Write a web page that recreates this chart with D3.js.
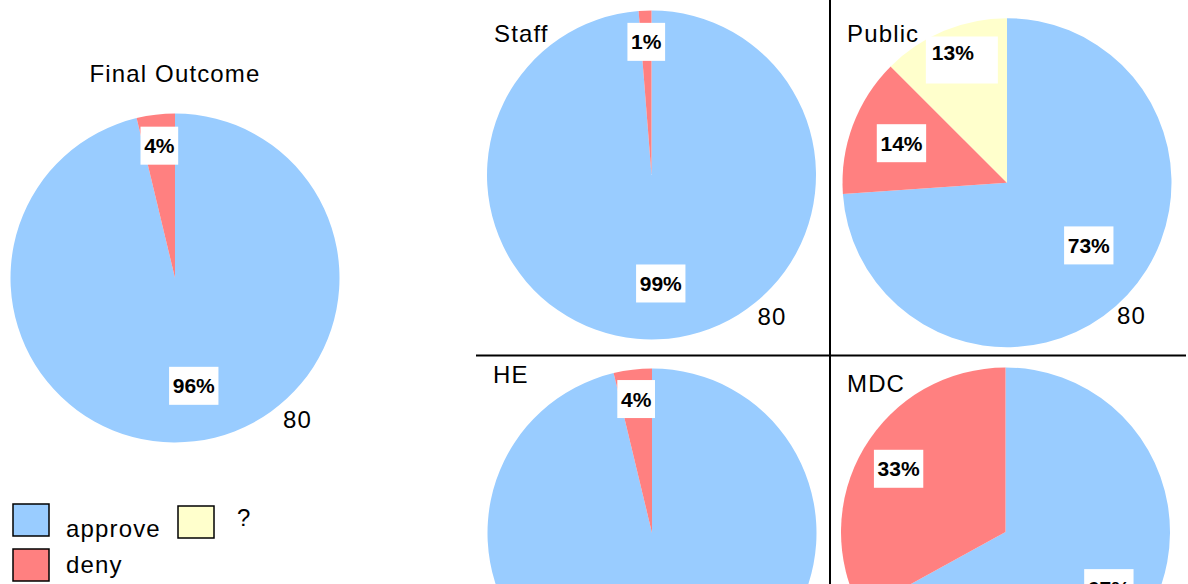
<!DOCTYPE html>
<html>
<head>
<meta charset="utf-8">
<script src="https://cdn.jsdelivr.net/npm/d3@7"></script>
<style>
  html, body { margin: 0; padding: 0; background: #fff; }
  svg { display: block; }
  text { font-family: "Liberation Sans", Arial, sans-serif; }
</style>
</head>
<body>
<svg id="chart" width="1188" height="584"></svg>
<script>
// ---------------- DATA ----------------
const panels = ["Final Outcome", "Staff", "Public", "HE", "MDC"];
const categories = ["approve", "deny", "?"];
const approve = [96.25, 98.75, 73.9, 96.25, 67];
const deny = [3.75, 1.25, 13.6, 3.75, 33];
const unknown = [0, 0, 12.5, 0, 0];
const counts = [80, 80, 80, 80, 80];
// percentage labels as printed in the chart (approve, deny, ?)
const approveLabels = ["96%", "99%", "73%", "96%", "67%"];
const denyLabels = ["4%", "1%", "14%", "4%", "33%"];
const unknownLabels = ["", "", "13%", "", ""];

// ---------------- LAYOUT / STYLE ----------------
const W = 1188, H = 584;
const colors = ["#99CCFF", "#FF8080", "#FFFFCC"];
const R = 164.5;
const centers = [[175, 278], [651.5, 175], [1007, 182.7], [652, 533], [1005.5, 532]];
const titlePos = [[175, 82, "middle"], [494, 42, "start"], [847, 42, "start"], [493, 383, "start"], [847, 392, "start"]];
// label radius fraction per slice (approve, deny, ?)
const labelFrac = [[0.66, 0.81, 0.8], [0.66, 0.81, 0.8], [0.63, 0.685, 0.86], [0.66, 0.82, 0.8], [0.73, 0.755, 0.8]];
// small nudges [dx, dy] for specific labels (panel-category)
const labelNudge = { "0-0": [6, 0], "1-0": [5, 0], "2-0": [6, -8], "4-0": [0, -5] };
// extra box padding [left, right, top, bottom] for specific labels (panel-category)
const boxOverride = { "2-2": [27, 45, 15.5, 31.5] };
const countOffset = [[108, 150], [106, 150], [110, 141], [108, 150], [108, 150]];
const legendPos = [[13, 504, 66, 537], [13, 549, 66, 573], [178, 506, 237, 526]];

const svg = d3.select("#chart");
svg.append("rect").attr("width", W).attr("height", H).attr("fill", "#fff");

const color = d3.scaleOrdinal().domain(categories).range(colors);
const pie = d3.pie().sort(null).value(d => d.value);
const arc = d3.arc().innerRadius(0).outerRadius(R);

// grid lines
svg.append("line").attr("x1", 830).attr("x2", 830).attr("y1", 0).attr("y2", H)
  .attr("stroke", "#000").attr("stroke-width", 2);
svg.append("line").attr("x1", 476).attr("x2", 1186).attr("y1", 355.5).attr("y2", 355.5)
  .attr("stroke", "#000").attr("stroke-width", 2);

const valueSeries = [approve, deny, unknown];
const labelSeries = [approveLabels, denyLabels, unknownLabels];

panels.forEach((name, i) => {
  const data = categories.map((c, k) => ({ cat: c, k: k, value: valueSeries[k][i], label: labelSeries[k][i] }));
  const arcs = pie(data);
  const g = svg.append("g").attr("transform", `translate(${centers[i][0]},${centers[i][1]})`);

  g.selectAll("path.slice").data(arcs.filter(a => a.data.value > 0)).join("path")
    .attr("class", "slice")
    .attr("d", arc)
    .attr("fill", d => color(d.data.cat));

  arcs.filter(a => a.data.value > 0).forEach(a => {
    const k = a.data.k;
    const key = i + "-" + k;
    const mid = (a.startAngle + a.endAngle) / 2;
    const rr = R * labelFrac[i][k];
    const nd = labelNudge[key] || [0, 0];
    const x = Math.sin(mid) * rr + nd[0], y = -Math.cos(mid) * rr + nd[1];
    const lg = g.append("g").attr("transform", `translate(${x},${y})`);
    const t = lg.append("text").attr("text-anchor", "middle").attr("dy", "0.36em")
      .attr("font-size", 21).attr("font-weight", "bold")
      .attr("fill", "#000").text(a.data.label);
    const bb = t.node().getBBox();
    const ov = boxOverride[key];
    const pad = ov || [bb.width / 2 + 3.5, bb.width / 2 + 3.5, 19, 19];
    lg.insert("rect", "text").attr("x", -pad[0]).attr("y", -pad[2])
      .attr("width", pad[0] + pad[1]).attr("height", pad[2] + pad[3]).attr("fill", "#fff");
  });

  g.append("text").attr("x", countOffset[i][0]).attr("y", countOffset[i][1])
    .attr("font-size", 24).attr("letter-spacing", "1.15px").attr("fill", "#000").text(counts[i]);

  svg.append("text").attr("x", titlePos[i][0]).attr("y", titlePos[i][1])
    .attr("text-anchor", titlePos[i][2])
    .attr("font-size", 24).attr("letter-spacing", "1.15px").attr("fill", "#000").text(name);
});

// legend
const lgd = svg.append("g");
categories.forEach((c, k) => {
  const p = legendPos[k];
  lgd.append("rect").attr("x", p[0]).attr("y", p[1]).attr("width", 36).attr("height", 32)
    .attr("fill", color(c)).attr("stroke", "#000").attr("stroke-width", 1.5);
  lgd.append("text").attr("x", p[2]).attr("y", p[3]).attr("font-size", 24)
    .attr("letter-spacing", "1.15px").attr("fill", "#000").text(c);
});
</script>
</body>
</html>
